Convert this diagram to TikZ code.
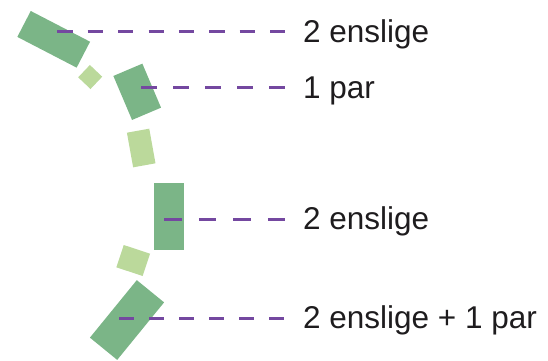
\documentclass[tikz,border=0pt]{standalone}
\usepackage{fontspec}
\setmainfont{Liberation Sans}
\definecolor{dkgreen}{RGB}{123,181,135}
\definecolor{ltgreen}{RGB}{187,217,155}
\definecolor{purp}{RGB}{116,72,160}
\definecolor{txt}{RGB}{30,28,30}
\begin{document}
\begin{tikzpicture}[x=1pt,y=-1pt,
  darkbox/.style={fill=dkgreen,draw=none,inner sep=0pt,outer sep=0pt},
  lightbox/.style={fill=ltgreen,draw=none,inner sep=0pt,outer sep=0pt},
  leader/.style={draw=purp,line width=2.8pt},
  lbl/.style={anchor=base west,inner sep=0pt,text=txt,font=\fontsize{31.5}{36}\selectfont}]
\useasboundingbox (0,0) rectangle (548,360);
% blocks
\node[darkbox,minimum width=66.8pt,minimum height=29.2pt,rotate=-27.4] (r1) at (53.7,39.3) {};
\node[lightbox,minimum width=17pt,minimum height=17pt,rotate=-43.5] (q1) at (90.2,77) {};
\node[darkbox,minimum width=31.5pt,minimum height=47.8pt,rotate=23] (r2) at (137.2,91.8) {};
\node[lightbox,minimum width=22.7pt,minimum height=35.2pt,rotate=10.2] (r3) at (141.2,148) {};
\node[darkbox,minimum width=30pt,minimum height=66.7pt] (r4) at (169,216.7) {};
\node[lightbox,minimum width=27.7pt,minimum height=23.5pt,rotate=-18.3] (q2) at (133.2,260.5) {};
\node[darkbox,minimum width=35.2pt,minimum height=74.2pt,rotate=-39.2] (r5) at (127,320) {};
% labels
\node[lbl] (l1) at (303,42) {2 enslige};
\node[lbl] (l2) at (303,98.2) {1 par};
\node[lbl] (l3) at (303,229.8) {2 enslige};
\node[lbl] (l4) at (303,328.8) {2 enslige + 1 par};
% connector ends
\coordinate (s1) at (57.3,31.7);
\coordinate (e1) at (285,31.7);
\coordinate (s2) at (141,87.7);
\coordinate (e2) at (285,87.7);
\coordinate (s3) at (164.3,219.3);
\coordinate (e3) at (285,219.3);
\coordinate (s4) at (119.3,318.3);
\coordinate (e4) at (285,318.3);
% leaders
\draw[leader,dash pattern=on 15.2pt off 15.2pt] (s1) -- (e1);
\draw[leader,dash pattern=on 16pt off 16pt] (s2) -- (e2);
\draw[leader,dash pattern=on 17.2pt off 17.3pt] (s3) -- (e3);
\draw[leader,dash pattern=on 15pt off 15pt] (s4) -- (e4);
\end{tikzpicture}
\end{document}
